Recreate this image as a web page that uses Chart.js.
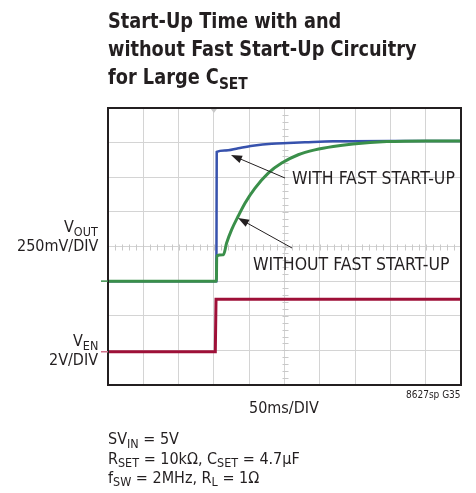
<!DOCTYPE html>
<html>
<head>
<meta charset="utf-8">
<script src="https://cdn.jsdelivr.net/npm/chart.js@4/dist/chart.umd.min.js"></script>
<style>
  html, body { margin:0; padding:0; background:#fff; }
  #wrap { position:relative; width:476px; height:493px; overflow:hidden; }
  #c { position:absolute; left:0; top:0; }
  .t { position:absolute; white-space:nowrap; line-height:1; color:#231f20;
       font-family:"Liberation Sans Narrow","DejaVu Sans Condensed","Liberation Sans",sans-serif; }
  .t .s { position:relative; top:0.28em; font-size:78%; }
  .b { font-weight:bold; transform:scaleX(0.94); transform-origin:0 0; }
</style>
</head>
<body>
<div id="wrap">
  <canvas id="c" width="476" height="493"></canvas>
</div>

<script type="text/JavaScript">

//------------------------------------------------------------------------------------------
// Data (x in ms, 50ms/DIV; y in screen divisions, 8 divisions tall)
//------------------------------------------------------------------------------------------

var fastTimeMs = [0, 153.5, 154, 165, 184.5, 205, 232, 255, 279, 318.5, 400, 500];
var fastVout   = [3, 3, 6.73, 6.77, 6.84, 6.91, 6.97, 6.99, 7.01, 7.04, 7.05, 7.05];

var slowTimeMs = [0, 153.5, 154, 163.5, 168, 175, 184.5, 194, 208, 227, 246, 269.5, 293, 319, 347, 395, 450, 500];
var slowVout   = [3, 3, 3.73, 3.76, 4.10, 4.48, 4.88, 5.25, 5.68, 6.12, 6.41, 6.65, 6.79, 6.89, 6.96, 7.03, 7.05, 7.05];

var enTimeMs = [0, 152, 153, 500];
var enLevel  = [0.96, 0.96, 2.48, 2.48];

var X_DIVS = 10, Y_DIVS = 8, MS_PER_DIV = 50;

//------------------------------------------------------------------------------------------
function pts(xs, ys) {
    var out = [];
    for (var i in xs) out.push({x: xs[i], y: ys[i]});
    return out;
}

// place text by its baseline (line-height 1)
function label(html, x, base, size, align, cls) {
    var d = document.createElement("div");
    d.className = "t" + (cls ? " " + cls : "");
    d.style.fontSize = size + "px";
    d.style.top = (base - 0.8465 * size) + "px";
    d.innerHTML = html;
    document.getElementById("wrap").appendChild(d);
    if (align == "right") d.style.left = (x - d.offsetWidth) + "px";
    else if (align == "center") d.style.left = (x - d.offsetWidth / 2) + "px";
    else d.style.left = x + "px";
    return d;
}

// scope decorations: centre-line minor ticks, trigger marks, frame, arrows
var scopePlugin = {
    id: "scope",
    beforeDatasetsDraw: function(chart) {
        var ctx = chart.ctx, xs = chart.scales.x, ys = chart.scales.y;
        ctx.save();
        ctx.strokeStyle = "#c9c9c9";
        ctx.lineWidth = 1;
        var cx = Math.round(xs.getPixelForValue(5 * MS_PER_DIV)) + 0.5;
        var cy = Math.round(ys.getPixelForValue(4)) + 0.5;
        ctx.beginPath();
        for (var i = 1; i < X_DIVS * 5; i++) {
            var px = Math.round(xs.getPixelForValue(i * MS_PER_DIV / 5)) + 0.5;
            ctx.moveTo(px, cy - 3); ctx.lineTo(px, cy + 3);
        }
        for (var j = 1; j < Y_DIVS * 5; j++) {
            var py = Math.round(ys.getPixelForValue(j / 5)) + 0.5;
            ctx.moveTo(cx - 3, py); ctx.lineTo(cx + 3, py);
        }
        ctx.stroke();
        ctx.restore();
    },
    afterDraw: function(chart) {
        var ctx = chart.ctx, xs = chart.scales.x, ys = chart.scales.y, a = chart.chartArea;
        ctx.save();
        // frame
        ctx.strokeStyle = "#231f20";
        ctx.lineWidth = 2;
        ctx.strokeRect(a.left, a.top, a.right - a.left, a.bottom - a.top);
        // ground markers on the left
        ctx.lineWidth = 1.5;
        ctx.strokeStyle = "#3a8f4a";
        ctx.beginPath(); ctx.moveTo(a.left - 7, ys.getPixelForValue(3)); ctx.lineTo(a.left, ys.getPixelForValue(3)); ctx.stroke();
        ctx.strokeStyle = "#d0708a";
        ctx.beginPath(); ctx.moveTo(a.left - 7, ys.getPixelForValue(0.96)); ctx.lineTo(a.left, ys.getPixelForValue(0.96)); ctx.stroke();
        // trigger marker
        var tx = xs.getPixelForValue(3 * MS_PER_DIV);
        ctx.fillStyle = "#c9c9c9";
        ctx.beginPath(); ctx.moveTo(tx - 3, a.top + 1); ctx.lineTo(tx + 3, a.top + 1); ctx.lineTo(tx, a.top + 5); ctx.fill();
        // arrows
        arrow(ctx, 285, 178, 231, 155);
        arrow(ctx, 292, 248, 238, 218);
        ctx.restore();
    }
};

function arrow(ctx, x1, y1, x2, y2) {
    var ang = Math.atan2(y2 - y1, x2 - x1), L = 11, W = 4;
    ctx.strokeStyle = "#231f20"; ctx.fillStyle = "#231f20"; ctx.lineWidth = 1;
    ctx.beginPath(); ctx.moveTo(x1, y1);
    ctx.lineTo(x2 - Math.cos(ang) * L * 0.8, y2 - Math.sin(ang) * L * 0.8); ctx.stroke();
    ctx.beginPath();
    ctx.moveTo(x2, y2);
    ctx.lineTo(x2 - Math.cos(ang) * L - Math.sin(ang) * W, y2 - Math.sin(ang) * L + Math.cos(ang) * W);
    ctx.lineTo(x2 - Math.cos(ang) * L + Math.sin(ang) * W, y2 - Math.sin(ang) * L - Math.cos(ang) * W);
    ctx.closePath(); ctx.fill();
}

//------------------------------------------------------------------------------------------
var ctxC = document.getElementById("c").getContext("2d");
var scopeChart = new Chart(ctxC, {
    type: "line",
    data: {
        datasets: [
            { label: "WITHOUT FAST START-UP", data: pts(slowTimeMs, slowVout), borderColor: "#3a8f4a",
              borderWidth: 3, cubicInterpolationMode: "monotone", order: 1 },
            { label: "WITH FAST START-UP", data: pts(fastTimeMs, fastVout), borderColor: "#3752ad",
              borderWidth: 2.5, cubicInterpolationMode: "monotone", order: 2 },
            { label: "VEN", data: pts(enTimeMs, enLevel), borderColor: "#9e1038",
              borderWidth: 3, order: 3 }
        ]
    },
    options: {
        responsive: false,
        devicePixelRatio: 1,
        animation: false,
        parsing: false,
        layout: { padding: { left: 108, top: 108, right: 15, bottom: 108 } },
        elements: { point: { radius: 0 }, line: { tension: 0, borderCapStyle: "butt" } },
        plugins: { legend: { display: false }, tooltip: { enabled: false } },
        scales: {
            x: { type: "linear", min: 0, max: X_DIVS * MS_PER_DIV,
                 ticks: { display: false, stepSize: MS_PER_DIV },
                 grid: { color: "#d4d4d4", lineWidth: 1, drawTicks: false },
                 border: { display: false } },
            y: { type: "linear", min: 0, max: Y_DIVS,
                 ticks: { display: false, stepSize: 1 },
                 grid: { color: "#d4d4d4", lineWidth: 1, drawTicks: false },
                 border: { display: false } }
        }
    },
    plugins: [scopePlugin]
}); //Chart()

// texts
label("Start-Up Time with and", 108, 28.3, 21, "left", "b");
label("without Fast Start-Up Circuitry", 108, 56.6, 21, "left", "b");
label("for Large C<span class='s'>SET</span>", 108, 85, 21, "left", "b");

label("WITH FAST START-UP", 292, 185, 17.5, "left");
label("WITHOUT FAST START-UP", 253, 271, 17.5, "left");

label("V<span class='s'>OUT</span>", 98, 233, 16, "right");
label("250mV/DIV", 98, 252, 16, "right");
label("V<span class='s'>EN</span>", 98, 347, 16, "right");
label("2V/DIV", 98, 366, 16, "right");

label("8627sp G35", 461, 398, 10, "right");
label("50ms/DIV", 284, 413.5, 16, "center");

label("SV<span class='s'>IN</span> = 5V", 108, 445, 16, "left");
label("R<span class='s'>SET</span> = 10k&Omega;, C<span class='s'>SET</span> = 4.7&micro;F", 108, 464.5, 16, "left");
label("f<span class='s'>SW</span> = 2MHz, R<span class='s'>L</span> = 1&Omega;", 108, 483.5, 16, "left");

</script>
</body>
</html>
